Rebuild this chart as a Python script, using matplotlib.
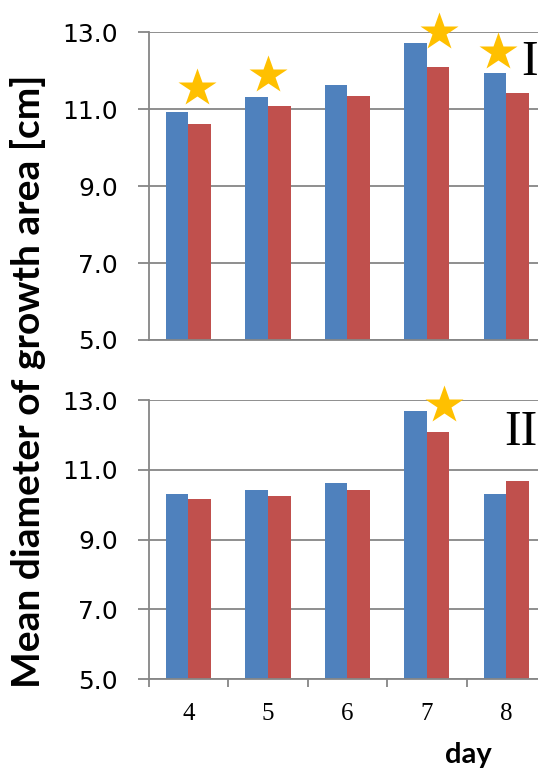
import numpy as np
import matplotlib.pyplot as plt

days = ['4', '5', '6', '7', '8']
# panel I
top_blue = [10.92, 11.31, 11.62, 12.71, 11.93]
top_red = [10.62, 11.08, 11.35, 12.09, 11.43]
# panel II
bot_blue = [10.30, 10.42, 10.63, 12.69, 10.30]
bot_red = [10.16, 10.25, 10.42, 12.09, 10.68]

# significance stars: day index and height
top_star_idx = [0, 1, 3, 4]
top_star_y = [11.55, 11.89, 13.0, 12.49]
bot_star_idx = [3]
bot_star_y = [12.86]

blue = '#4F81BD'
red = '#C0504D'
gold = '#FFC000'
gray = '#868686'

fig = plt.figure(figsize=(5.38, 7.69), dpi=100)
ax1 = fig.add_axes([0.2764, 0.5579, 0.7385, 0.4001])
ax2 = fig.add_axes([0.2764, 0.1170, 0.7385, 0.3628])

x = np.arange(len(days))
w = 0.285
top_star_dx = [0.11, 0.0, 0.15, -0.11]
bot_star_dx = [0.21]

def style(ax, show_x):
    ax.set_ylim(5, 13)
    ax.set_xlim(-0.5, 4.5)
    ax.set_yticks([5, 7, 9, 11, 13])
    ax.set_yticklabels(['5.0', '7.0', '9.0', '11.0', '13.0'])
    ax.yaxis.grid(True, color=gray, lw=1.3)
    ax.set_axisbelow(True)
    for s in ['top', 'right']:
        ax.spines[s].set_visible(False)
    for s in ['left', 'bottom']:
        ax.spines[s].set_color(gray)
        ax.spines[s].set_linewidth(1.3)
    ax.tick_params(axis='y', length=8, width=1.3, color=gray, pad=14,
                   labelsize=18)
    ax.set_xticks(x)
    ax.set_xticks(np.arange(-0.5, 5.0, 1.0), minor=True)
    if show_x:
        ax.set_xticklabels(days, family='Liberation Serif', fontsize=18)
        ax.tick_params(axis='x', which='major', length=0, pad=17)
        ax.tick_params(axis='x', which='minor', length=6, width=1.3,
                       color=gray)
    else:
        ax.set_xticklabels([])
        ax.tick_params(axis='x', which='both', length=0)

for ax, b, r in [(ax1, top_blue, top_red), (ax2, bot_blue, bot_red)]:
    ax.bar(x - w / 2, b, w, color=blue, bottom=0)
    ax.bar(x + w / 2, r, w, color=red, bottom=0)

style(ax1, False)
style(ax2, True)

ax1.plot(np.array(top_star_idx) + np.array(top_star_dx), top_star_y, '*',
         color=gold, ms=29, mec='none', clip_on=False)
ax2.plot(np.array(bot_star_idx) + np.array(bot_star_dx), bot_star_y, '*',
         color=gold, ms=29, mec='none', clip_on=False)

ax1.text(4.29, 12.2, 'I', family='Liberation Serif', fontsize=36,
         ha='center', va='center')
ax2.text(4.18, 12.05, 'II', family='Liberation Serif', fontsize=36,
         ha='center', va='center')

fig.text(0.052, 0.5046, 'Mean diameter of growth area [cm]', rotation=90,
         family='Lato', fontweight='bold', fontsize=28, ha='center',
         va='center')
fig.text(0.870, 0.018, 'day', family='Lato', fontweight='bold', fontsize=21,
         ha='center', va='center')

fig.savefig('out.png', dpi=100)
